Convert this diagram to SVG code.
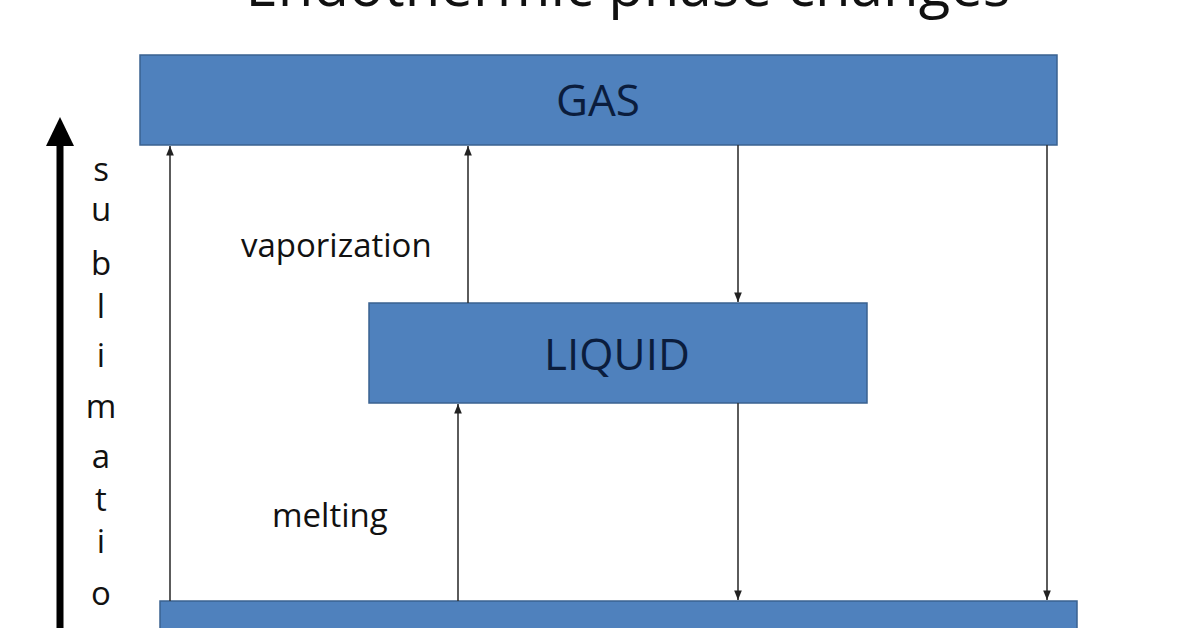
<svg xmlns="http://www.w3.org/2000/svg" width="1196" height="628" viewBox="0 0 1196 628">
<style>
.box{fill:#4f81bd;stroke:#3a6290;stroke-width:1.5}
.bl{font-family:"Open Sans","Liberation Sans",sans-serif;font-size:44px;fill:#0b1d3d;text-anchor:middle}
.lab{font-family:"Open Sans","Liberation Sans",sans-serif;font-size:33px;fill:#111}
.c{stroke:#333;stroke-width:1.6;fill:none;marker-end:url(#ah)}
</style>
<defs>
<marker id="ah" viewBox="0 0 10 10" refX="10" refY="5" markerWidth="6" markerHeight="6" orient="auto"><path d="M0,1 L10,5 L0,9 z" fill="#222"/></marker>
</defs>
<rect width="1196" height="628" fill="#fff"/>
<text x="628" y="6" font-family="Open Sans, Liberation Sans, sans-serif" font-size="58" text-anchor="middle" textLength="765" fill="#111">Endothermic phase changes</text>
<g id="gas"><rect class="box" x="140" y="55" width="917" height="90"/><text class="bl" x="598" y="116">GAS</text></g>
<g id="liquid"><rect class="box" x="369" y="303" width="498" height="100"/><text class="bl" x="617" y="370">LIQUID</text></g>
<g id="solid"><rect class="box" x="160" y="601" width="917" height="60"/></g>
<g id="connectors">
<line class="c" x1="170" y1="601" x2="170" y2="146"/>
<line class="c" x1="468" y1="303" x2="468" y2="146"/>
<line class="c" x1="738" y1="145" x2="738" y2="302"/>
<line class="c" x1="1047" y1="145" x2="1047" y2="600"/>
<line class="c" x1="458" y1="601" x2="458" y2="404"/>
<line class="c" x1="738" y1="403" x2="738" y2="600"/>
<line x1="60" y1="628" x2="60" y2="140" stroke="#000" stroke-width="7"/>
<polygon points="60,117 46,146 74,146" fill="#000"/>
</g>
<g class="lab">
<text x="241" y="257">vaporization</text>
<text x="272" y="527">melting</text>
<text x="101" y="181" text-anchor="middle">s</text>
<text x="101" y="221" text-anchor="middle">u</text>
<text x="101" y="275" text-anchor="middle">b</text>
<text x="101" y="318" text-anchor="middle">l</text>
<text x="101" y="367" text-anchor="middle">i</text>
<text x="101" y="418" text-anchor="middle">m</text>
<text x="101" y="468" text-anchor="middle">a</text>
<text x="101" y="511" text-anchor="middle">t</text>
<text x="101" y="553" text-anchor="middle">i</text>
<text x="101" y="605" text-anchor="middle">o</text>
</g>
</svg>
